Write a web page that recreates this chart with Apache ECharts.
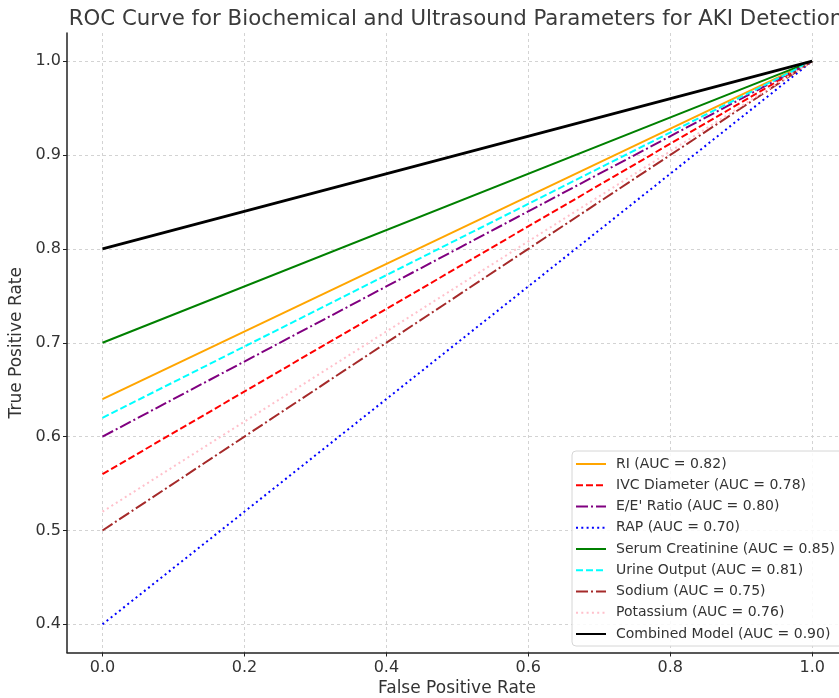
<!DOCTYPE html>
<html>
<head>
<meta charset="utf-8">
<script src="https://cdn.jsdelivr.net/npm/echarts@6/dist/echarts.min.js"></script>
<style>
  html, body { margin: 0; padding: 0; background: #fff; }
  #chart { width: 839px; height: 698px; }
</style>
</head>
<body>
<div id="chart"></div>
<script>
const fpr = [0, 1];
const names = [
    'RI (AUC = 0.82)',
    'IVC Diameter (AUC = 0.78)',
    "E/E' Ratio (AUC = 0.80)",
    'RAP (AUC = 0.70)',
    'Serum Creatinine (AUC = 0.85)',
    'Urine Output (AUC = 0.81)',
    'Sodium (AUC = 0.75)',
    'Potassium (AUC = 0.76)',
    'Combined Model (AUC = 0.90)'
];
const tprRI = [0.64, 1];
const tprIVC = [0.56, 1];
const tprEE = [0.60, 1];
const tprRAP = [0.40, 1];
const tprCreat = [0.70, 1];
const tprUrine = [0.62, 1];
const tprSodium = [0.50, 1];
const tprPotassium = [0.52, 1];
const tprCombined = [0.80, 1];
const xTicks = [0, 0.2, 0.4, 0.6, 0.8, 1.0];
const yTicks = [0.4, 0.5, 0.6, 0.7, 0.8, 0.9, 1.0];

const styles = [
    { color: '#ffa500', type: 'solid', width: 2 },
    { color: '#ff0000', type: [7, 3], width: 2 },
    { color: '#800080', type: [12, 3, 2, 3], width: 2 },
    { color: '#0000ff', type: [2, 3.3], width: 2 },
    { color: '#008000', type: 'solid', width: 2 },
    { color: '#00ffff', type: [7, 3], width: 2 },
    { color: '#a52a2a', type: [12, 3, 2, 3], width: 2 },
    { color: '#ffc0cb', type: [2, 3.3], width: 2 },
    { color: '#000000', type: 'solid', width: 2.7 }
];
const tprs = [tprRI, tprIVC, tprEE, tprRAP, tprCreat, tprUrine, tprSodium, tprPotassium, tprCombined];

const font = 'DejaVu Sans';

echarts.init(document.querySelector('#chart')).setOption({
    animation: false,
    title: {
        text: 'ROC Curve for Biochemical and Ultrasound Parameters for AKI Detection',
        left: 451,
        top: 4,
        textAlign: 'center',
        textStyle: { fontFamily: font, fontSize: 21.3, fontWeight: 'normal', color: '#3a3a3a' }
    },
    grid: { left: 67, right: 0, top: 33, bottom: 45.5, outerBoundsMode: 'none' },
    legend: {
        orient: 'vertical',
        left: 572,
        top: 451,
        padding: [6, 40, 5, 3],
        itemWidth: 30,
        itemHeight: 14,
        itemGap: 7.25,
        backgroundColor: 'rgba(255,255,255,0.85)',
        borderColor: '#d6d6d6',
        borderWidth: 1,
        borderRadius: 4,
        itemStyle: { opacity: 0 },
        textStyle: { fontFamily: font, fontSize: 14, color: '#333', padding: [0, 0, 0, 5] },
        data: names
    },
    xAxis: {
        type: 'value',
        min: -0.05,
        max: 1.0378,
        name: 'False Positive Rate',
        nameLocation: 'middle',
        nameGap: 23,
        nameTextStyle: { fontFamily: font, fontSize: 17, color: '#333', padding: [0, 0, 0, 8] },
        axisLine: { onZero: false, lineStyle: { color: '#222', width: 1.5 } },
        axisTick: { show: true, length: 4, customValues: xTicks, lineStyle: { color: '#222' } },
        axisLabel: {
            customValues: xTicks,
            fontFamily: font, fontSize: 16, color: '#333', margin: 7,
            formatter: v => v.toFixed(1)
        },
        splitLine: { show: true, lineStyle: { color: '#d3d3d3', type: [3, 3], width: 1 } }
    },
    yAxis: {
        type: 'value',
        min: 0.37,
        max: 1.03,
        name: 'True Positive Rate',
        nameLocation: 'middle',
        nameGap: 34,
        nameTextStyle: { fontFamily: font, fontSize: 17, color: '#333' },
        axisLine: { show: true, onZero: false, lineStyle: { color: '#222', width: 1.5 } },
        axisTick: { show: true, length: 4, customValues: yTicks, lineStyle: { color: '#222' } },
        axisLabel: {
            customValues: yTicks,
            fontFamily: font, fontSize: 16, color: '#333', margin: 6,
            formatter: v => v.toFixed(1)
        },
        splitLine: { show: true, lineStyle: { color: '#d3d3d3', type: [3, 3], width: 1 } }
    },
    series: names.map((name, i) => ({
        name: name,
        type: 'line',
        showSymbol: false,
        symbol: 'none',
        data: fpr.map((x, j) => [x, tprs[i][j]]),
        lineStyle: styles[i],
        itemStyle: { color: styles[i].color },
        z: 2 + i
    }))
});
</script>
</body>
</html>
